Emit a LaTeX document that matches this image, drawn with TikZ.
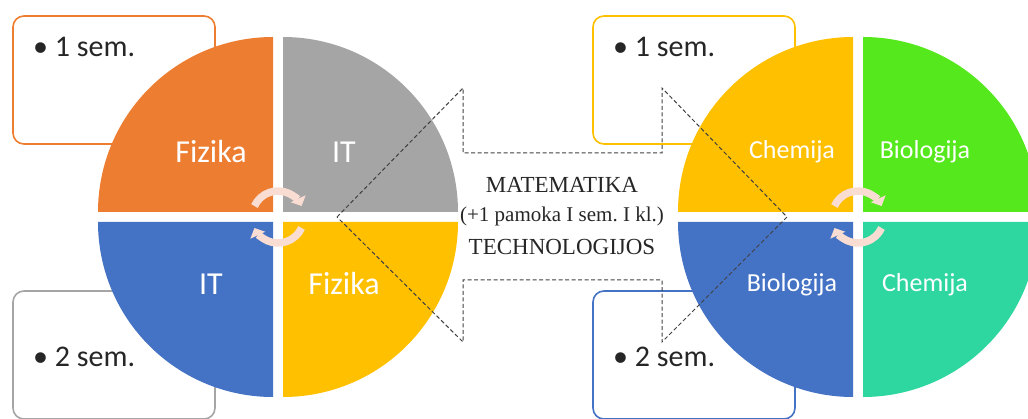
\documentclass[tikz,border=0pt]{standalone}
\usepackage{fontspec}
\setmainfont{Carlito}
\newfontfamily\timesfont{Liberation Serif}
\usetikzlibrary{arrows.meta}
\frenchspacing
\definecolor{fizorange}{HTML}{ED7D31}
\definecolor{itgray}{HTML}{A5A5A5}
\definecolor{itblue}{HTML}{4472C4}
\definecolor{fizyellow}{HTML}{FFC000}
\definecolor{biogreen}{HTML}{55E81C}
\definecolor{chemteal}{HTML}{2ED6A0}
\definecolor{turnpeach}{HTML}{F9DDD2}

\begin{document}
\begin{tikzpicture}[x=1pt,y=-1pt,
        sembox/.style={shape=rectangle,draw,line width=1.6pt,rounded corners=11pt,minimum width=202pt,minimum height=128pt},
        semtext/.style={anchor=base west,inner sep=0pt,text=black!85,font=\fontsize{30}{36}\selectfont},
        slicetext/.style={anchor=base,inner sep=0pt,text=white,font=\fontsize{32}{38}\selectfont},
        smalltext/.style={anchor=base,inner sep=0pt,text=white,font=\fontsize{26}{31}\selectfont},
        turnarrow/.style={line width=7.5pt,turnpeach,-{Triangle[width=16pt,length=8pt]}},
        dasharrow/.style={draw=black!75,line width=1pt,dash pattern=on 4pt off 2.5pt},
        mathtext/.style={anchor=base,inner sep=0pt,text=black!85,font=\timesfont\fontsize{23}{27}\selectfont}]
    \useasboundingbox (0,0) rectangle (1028,419);

        \node (sem1 left) [sembox,draw=fizorange] at (114,80) {};
        \node (sem2 left) [sembox,draw=itgray] at (114,355) {};
        \node (sem1 right) [sembox,draw=fizyellow] at (694,80) {};
        \node (sem2 right) [sembox,draw=itblue] at (694,355) {};

        \coordinate (left hub) at (278,217);
        \coordinate (right hub) at (858,217);

        \fill [fizorange] (273,212) -- ++(-175,0) arc[start angle=180,end angle=270,radius=175] -- cycle;
        \fill [itgray] (283,212) -- ++(0,-175) arc[start angle=270,end angle=360,radius=175] -- cycle;
        \fill [fizyellow] (283,222) -- ++(175,0) arc[start angle=0,end angle=90,radius=175] -- cycle;
        \fill [itblue] (273,222) -- ++(0,175) arc[start angle=90,end angle=180,radius=175] -- cycle;

        \fill [fizyellow] (853,212) -- ++(-175,0) arc[start angle=180,end angle=270,radius=175] -- cycle;
        \fill [biogreen] (863,212) -- ++(0,-175) arc[start angle=270,end angle=360,radius=175] -- cycle;
        \fill [chemteal] (863,222) -- ++(175,0) arc[start angle=0,end angle=90,radius=175] -- cycle;
        \fill [itblue] (853,222) -- ++(0,175) arc[start angle=90,end angle=180,radius=175] -- cycle;

        \draw [turnarrow] ([shift={(205:26)}]left hub) arc[start angle=205,end angle=335,radius=26];
        \draw [turnarrow] ([shift={(25:26)}]left hub) arc[start angle=25,end angle=155,radius=26];
        \draw [turnarrow] ([shift={(205:26)}]right hub) arc[start angle=205,end angle=335,radius=26];
        \draw [turnarrow] ([shift={(25:26)}]right hub) arc[start angle=25,end angle=155,radius=26];

        \draw [dasharrow] (337,217) -- (463,88) -- (463,153) -- (662,153) -- (662,88) -- (787,217)
            -- (662,342) -- (662,280) -- (463,280) -- (463,342) -- cycle;

        \node (sem1 left text) [semtext] at (33,57) {• 1 sem.};
        \node (sem2 left text) [semtext] at (33,367) {• 2 sem.};
        \node (sem1 right text) [semtext] at (613,57) {• 1 sem.};
        \node (sem2 right text) [semtext] at (613,367) {• 2 sem.};

        \node (Fizika 1) [slicetext] at (211,163) {Fizika};
        \node (IT 1) [slicetext] at (344,163) {IT};
        \node (IT 2) [slicetext] at (211,295) {IT};
        \node (Fizika 2) [slicetext] at (344,295) {Fizika};

        \node (Chemija 1) [smalltext] at (792,159) {Chemija};
        \node (Biologija 1) [smalltext] at (925,159) {Biologija};
        \node (Biologija 2) [smalltext] at (792,292) {Biologija};
        \node (Chemija 2) [smalltext] at (925,292) {Chemija};

        \node (math) [mathtext] at (562,193) {MATEMATIKA};
        \node (math extra) [mathtext,font=\timesfont\fontsize{21}{25}\selectfont] at (562,222) {(+1 pamoka I sem. I kl.)};
        \node (tech) [mathtext] at (562,255) {TECHNOLOGIJOS};
    \end{tikzpicture}
\end{document}
